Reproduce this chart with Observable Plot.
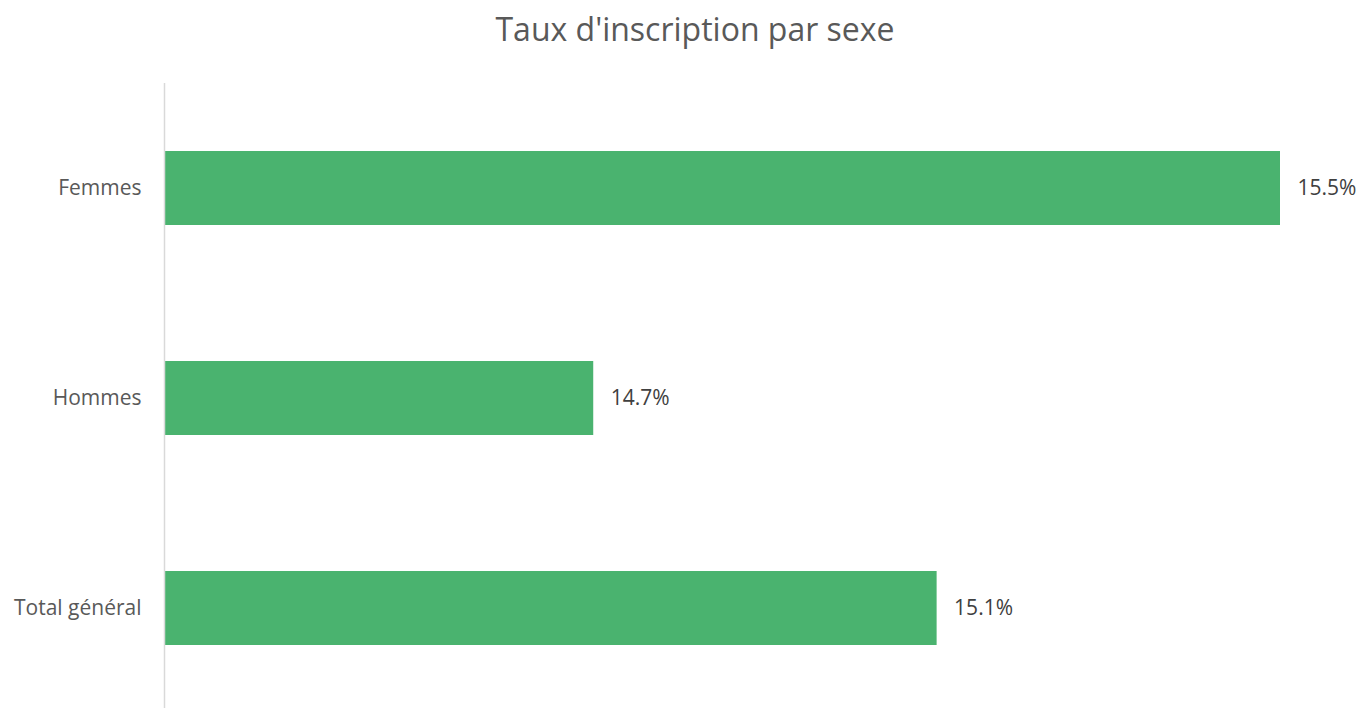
<!DOCTYPE html>
<html>
<head>
<meta charset="utf-8">
<script src="https://cdn.jsdelivr.net/npm/d3@7"></script>
<script src="https://cdn.jsdelivr.net/npm/@observablehq/plot@0.6"></script>
<style>
  html, body { margin: 0; padding: 0; background: #fff; overflow: hidden; }
  #title { position: absolute; left: 0; top: 0; width: 1390px; height: 60px; text-align: center;
           font-family: "Open Sans", sans-serif; font-size: 32px; color: #595959; line-height: 58px; }
  #chart { position: absolute; left: 0; top: 60px; }
</style>
</head>
<body>
<div id="title">Taux d'inscription par sexe</div>
<div id="chart"></div>
<script>
const categories = ["Femmes", "Hommes", "Total général"];
const values = [15.5, 14.7, 15.1];
const axisMin = 14.2;

const data = categories.map((c, i) => ({category: c, value: values[i]}));

const chart = Plot.plot({
  width: 1360,
  height: 653,
  marginLeft: 164,
  marginRight: 80,
  marginTop: 23,
  marginBottom: 0,
  style: {fontFamily: "Open Sans, sans-serif", background: "#fff"},
  x: {domain: [axisMin, 15.5], axis: null},
  y: {domain: categories, paddingInner: 0.648, paddingOuter: 0.324, label: null},
  marks: [
    Plot.barX(data, {y: "category", x1: axisMin, x2: "value", fill: "#4ab36f"}),
    Plot.ruleX([axisMin], {stroke: "#d9d9d9", strokeWidth: 1.5}),
    Plot.text(data, {y: "category", x: "value", text: d => d.value.toFixed(1) + "%",
      dx: 17, textAnchor: "start", fill: "#404040", fontSize: 21}),
    Plot.axisY({tickSize: 0, tickPadding: 23, fontSize: 21, color: "#595959", label: null})
  ]
});
document.getElementById("chart").appendChild(chart);
</script>
</body>
</html>
